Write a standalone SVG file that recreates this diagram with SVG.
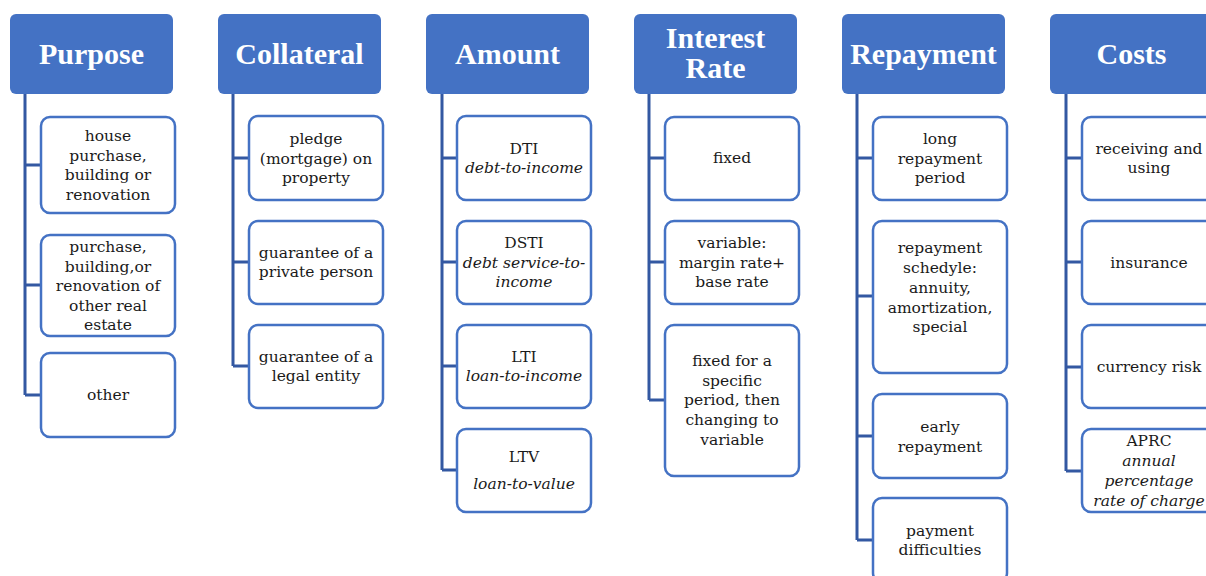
<svg xmlns="http://www.w3.org/2000/svg" width="1206" height="576" viewBox="0 0 1206 576">
<style>
.hdr{fill:#4472C4}
.ht{font-family:"Liberation Serif",serif;font-weight:bold;font-size:30px;fill:#fff;text-anchor:middle}
.box{fill:#fff;stroke:#4472C4;stroke-width:2.5}
.t{font-family:"DejaVu Serif","Liberation Serif",serif;font-size:15.5px;fill:#1a1a1a;text-anchor:middle}
.i{font-style:italic}
.con{stroke:#3358A2;stroke-width:3;fill:none}
</style>
<rect width="1206" height="576" fill="#fff"/>
<g id="connectors">
<path class="con" d="M25,94V395M25,165H41M25,285H41M25,395H41"/>
<path class="con" d="M233,94V366M233,158H249M233,262H249M233,366H249"/>
<path class="con" d="M442,94V470M442,158H457M442,262H457M442,366H457M442,470H457"/>
<path class="con" d="M649,94V400M649,158H665M649,262H665M649,400H665"/>
<path class="con" d="M857,94V540M857,158H873M857,296H873M857,436H873M857,540H873"/>
<path class="con" d="M1066,94V471M1066,158H1082M1066,262H1082M1066,367H1082M1066,471H1082"/>
</g>
<g id="purpose">
<rect class="hdr" x="10" y="14" width="163" height="80" rx="6"/>
<text class="ht" x="91.5" y="64">Purpose</text>
</g>
<g id="collateral">
<rect class="hdr" x="218" y="14" width="163" height="80" rx="6"/>
<text class="ht" x="299.5" y="64">Collateral</text>
</g>
<g id="amount">
<rect class="hdr" x="426" y="14" width="163" height="80" rx="6"/>
<text class="ht" x="507.5" y="64">Amount</text>
</g>
<g id="interest">
<rect class="hdr" x="634" y="14" width="163" height="80" rx="6"/>
<text class="ht" x="715.5" y="48">Interest</text>
<text class="ht" x="715.5" y="78">Rate</text>
</g>
<g id="repayment">
<rect class="hdr" x="842" y="14" width="163" height="80" rx="6"/>
<text class="ht" x="923.5" y="64">Repayment</text>
</g>
<g id="costs">
<rect class="hdr" x="1050" y="14" width="163" height="80" rx="6"/>
<text class="ht" x="1131.5" y="64">Costs</text>
</g>
<g id="p1"><rect class="box" x="41" y="117" width="134" height="96" rx="9"/>
<text class="t" x="108" y="141">house</text><text class="t" x="108" y="160.5">purchase,</text><text class="t" x="108" y="180">building or</text><text class="t" x="108" y="200">renovation</text></g>
<g id="p2"><rect class="box" x="41" y="235" width="134" height="101" rx="9"/>
<text class="t" x="108" y="252">purchase,</text><text class="t" x="108" y="272">building,or</text><text class="t" x="108" y="291">renovation of</text><text class="t" x="108" y="311">other real</text><text class="t" x="108" y="330">estate</text></g>
<g id="p3"><rect class="box" x="41" y="353" width="134" height="84" rx="9"/>
<text class="t" x="108" y="400">other</text></g>
<g id="c1"><rect class="box" x="249" y="116" width="134" height="84" rx="9"/>
<text class="t" x="316" y="144">pledge</text><text class="t" x="316" y="163.5">(mortgage) on</text><text class="t" x="316" y="183">property</text></g>
<g id="c2"><rect class="box" x="249" y="221" width="134" height="83" rx="9"/>
<text class="t" x="316" y="258">guarantee of a</text><text class="t" x="316" y="277">private person</text></g>
<g id="c3"><rect class="box" x="249" y="325" width="134" height="83" rx="9"/>
<text class="t" x="316" y="362">guarantee of a</text><text class="t" x="316" y="381">legal entity</text></g>
<g id="a1"><rect class="box" x="457" y="116" width="134" height="84" rx="9"/>
<text class="t" x="524" y="154">DTI</text><text class="t i" x="524" y="173">debt-to-income</text></g>
<g id="a2"><rect class="box" x="457" y="221" width="134" height="83" rx="9"/>
<text class="t" x="524" y="248">DSTI</text><text class="t i" x="524" y="268">debt service-to-</text><text class="t i" x="524" y="287">income</text></g>
<g id="a3"><rect class="box" x="457" y="325" width="134" height="83" rx="9"/>
<text class="t" x="524" y="362">LTI</text><text class="t i" x="524" y="381">loan-to-income</text></g>
<g id="a4"><rect class="box" x="457" y="429" width="134" height="83" rx="9"/>
<text class="t" x="524" y="462">LTV</text><text class="t i" x="524" y="489">loan-to-value</text></g>
<g id="i1"><rect class="box" x="665" y="117" width="134" height="83" rx="9"/>
<text class="t" x="732" y="163">fixed</text></g>
<g id="i2"><rect class="box" x="665" y="221" width="134" height="83" rx="9"/>
<text class="t" x="732" y="248">variable:</text><text class="t" x="732" y="268">margin rate+</text><text class="t" x="732" y="287">base rate</text></g>
<g id="i3"><rect class="box" x="665" y="325" width="134" height="151" rx="9"/>
<text class="t" x="732" y="366">fixed for a</text><text class="t" x="732" y="386">specific</text><text class="t" x="732" y="405">period, then</text><text class="t" x="732" y="425">changing to</text><text class="t" x="732" y="445">variable</text></g>
<g id="r1"><rect class="box" x="873" y="117" width="134" height="83" rx="9"/>
<text class="t" x="940" y="144">long</text><text class="t" x="940" y="164">repayment</text><text class="t" x="940" y="183">period</text></g>
<g id="r2"><rect class="box" x="873" y="221" width="134" height="152" rx="9"/>
<text class="t" x="940" y="253">repayment</text><text class="t" x="940" y="273">schedyle:</text><text class="t" x="940" y="293">annuity,</text><text class="t" x="940" y="313">amortization,</text><text class="t" x="940" y="332">special</text></g>
<g id="r3"><rect class="box" x="873" y="394" width="134" height="84" rx="9"/>
<text class="t" x="940" y="432">early</text><text class="t" x="940" y="452">repayment</text></g>
<g id="r4"><rect class="box" x="873" y="498" width="134" height="84" rx="9"/>
<text class="t" x="940" y="536">payment</text><text class="t" x="940" y="555">difficulties</text></g>
<g id="k1"><rect class="box" x="1082" y="117" width="134" height="83" rx="9"/>
<text class="t" x="1149" y="154">receiving and</text><text class="t" x="1149" y="173">using</text></g>
<g id="k2"><rect class="box" x="1082" y="221" width="134" height="83" rx="9"/>
<text class="t" x="1149" y="268">insurance</text></g>
<g id="k3"><rect class="box" x="1082" y="325" width="134" height="83" rx="9"/>
<text class="t" x="1149" y="372">currency risk</text></g>
<g id="k4"><rect class="box" x="1082" y="429" width="134" height="83" rx="9"/>
<text class="t" x="1149" y="446">APRC</text><text class="t i" x="1149" y="466">annual</text><text class="t i" x="1149" y="486">percentage</text><text class="t i" x="1149" y="506">rate of charge</text></g>
</svg>
